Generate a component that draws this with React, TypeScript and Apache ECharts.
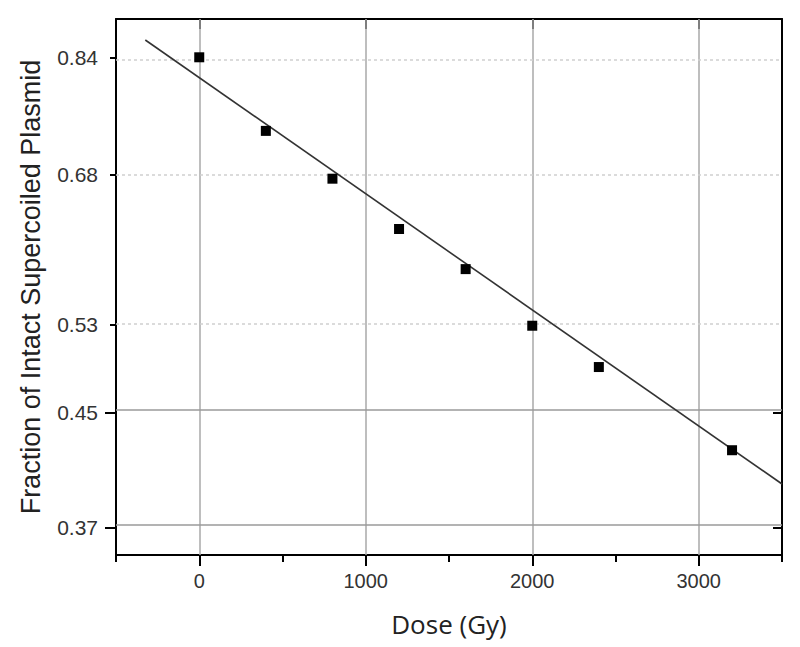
import React, { useEffect, useRef } from "react";
import * as echarts from "echarts";

// Data
const doses = [0, 400, 800, 1200, 1600, 2000, 2400, 3200];
const fractions = [0.839, 0.738, 0.679, 0.622, 0.58, 0.5255, 0.489, 0.423];
// Fitted line end points
const fitDoses = [-324, 3500];
const fitFractions = [0.8647, 0.3988];
// Y axis (log scale) tick positions and range
const yTickFractions = [0.839, 0.6834, 0.5268, 0.4516, 0.3698];
const yMajorFractions = [0.4516, 0.3698];
const yMinorFractions = [0.839, 0.6834, 0.5268];
const yRangeFractions = [0.3524, 0.8969];
// X axis
const xRange = [-500, 3500];
const xAllTicks = [-500, 0, 500, 1000, 1500, 2000, 2500, 3000, 3500];
const xMajorTicks = [0, 1000, 2000, 3000];

const FONT = "'Liberation Sans', Arial, sans-serif";

export default function App() {
  const ref = useRef<HTMLDivElement>(null);
  useEffect(() => {
    if (!ref.current) return;
    const chart = echarts.init(ref.current, null, { renderer: "svg" });
    const ln = (v: number) => Math.log(v);
    const yMin = ln(yRangeFractions[0]);
    const yMax = ln(yRangeFractions[1]);
    const common = { min: yMin, max: yMax, type: "value" as const };
    const frameLine = { show: true, onZero: false, lineStyle: { color: "#000", width: 2 } };
    chart.setOption({
      animation: false,
      backgroundColor: "#fff",
      textStyle: { fontFamily: FONT },
      grid: { left: 116, right: 18, top: 19, bottom: 92 },
      xAxis: [
        {
          type: "value",
          min: xRange[0],
          max: xRange[1],
          position: "bottom",
          splitLine: { show: false },
          axisLine: frameLine,
          axisTick: { show: true, customValues: xAllTicks, length: 7, lineStyle: { color: "#000", width: 2 } },
          axisLabel: {
            customValues: xMajorTicks,
            formatter: (v: number) => String(v),
            margin: 16,
            fontSize: 20,
            color: "#333",
            fontFamily: FONT,
          },
          name: "Dose (Gy)",
          nameLocation: "middle",
          nameGap: 56,
          nameTextStyle: { fontSize: 26, color: "#222", fontFamily: "'Open Sans', 'Liberation Sans', sans-serif" },
        },
        {
          type: "value",
          min: xRange[0],
          max: xRange[1],
          position: "bottom",
          splitLine: { show: false },
          axisLine: { show: false, onZero: false },
          axisTick: { show: true, customValues: xMajorTicks, length: 11, lineStyle: { color: "#000", width: 2 } },
          axisLabel: { show: false },
        },
        {
          type: "value",
          min: xRange[0],
          max: xRange[1],
          position: "top",
          splitLine: { show: false },
          axisLine: frameLine,
          axisTick: { show: true, inside: true, customValues: xMajorTicks, length: 10, lineStyle: { color: "#000", width: 2 } },
          axisLabel: { show: false },
        },
      ],
      yAxis: [
        {
          ...common,
          position: "left",
          splitLine: { show: false },
          axisLine: frameLine,
          axisTick: { show: true, customValues: yTickFractions.map(ln), length: 6, lineStyle: { color: "#000", width: 2 } },
          axisLabel: {
            customValues: yTickFractions.map(ln),
            formatter: (v: number) => Math.exp(v).toFixed(2),
            margin: 18,
            fontSize: 21,
            color: "#333",
            fontFamily: FONT,
          },
          name: "Fraction of Intact Supercoiled Plasmid",
          nameLocation: "middle",
          nameGap: 72,
          nameRotate: 90,
          nameTextStyle: { fontSize: 27, color: "#222", fontFamily: FONT },
        },
        {
          ...common,
          position: "left",
          splitLine: { show: false },
          axisLine: { show: false, onZero: false },
          axisTick: { show: true, customValues: yMajorFractions.map(ln), length: 11, lineStyle: { color: "#000", width: 2 } },
          axisLabel: { show: false },
        },
        {
          ...common,
          position: "right",
          splitLine: { show: false },
          axisLine: frameLine,
          axisTick: { show: true, inside: true, customValues: yMajorFractions.map(ln), length: 9, lineStyle: { color: "#000", width: 2 } },
          axisLabel: { show: false },
        },
      ],
      series: [
        {
          type: "scatter",
          data: [],
          z: 1,
          silent: true,
          markLine: {
            silent: true,
            z: 1,
            symbol: "none",
            label: { show: false },
            data: [
              ...xMajorTicks.map((x) => ({ xAxis: x, lineStyle: { color: "#a8a8a8", width: 1.5, type: "solid" } })),
              ...yMajorFractions.map((f) => ({ yAxis: ln(f), lineStyle: { color: "#9a9a9a", width: 1.5, type: "solid" } })),
              ...yMinorFractions.map((f) => ({ yAxis: ln(f), lineStyle: { color: "#cfcfcf", width: 1.5, type: [3, 3] } })),
            ],
          },
        },
        {
          type: "line",
          data: fitDoses.map((d, i) => [d, ln(fitFractions[i])]),
          symbol: "none",
          z: 3,
          lineStyle: { color: "#333", width: 1.6 },
        },
        {
          type: "scatter",
          data: doses.map((d, i) => [d, ln(fractions[i])]),
          symbol: "rect",
          symbolSize: 10,
          z: 4,
          itemStyle: { color: "#000", opacity: 1 },
        },
      ],
    });
    return () => chart.dispose();
  }, []);
  return (
    <div
      ref={ref}
      style={{ position: "fixed", left: 0, top: 0, width: 800, height: 647, background: "#fff" }}
    />
  );
}
